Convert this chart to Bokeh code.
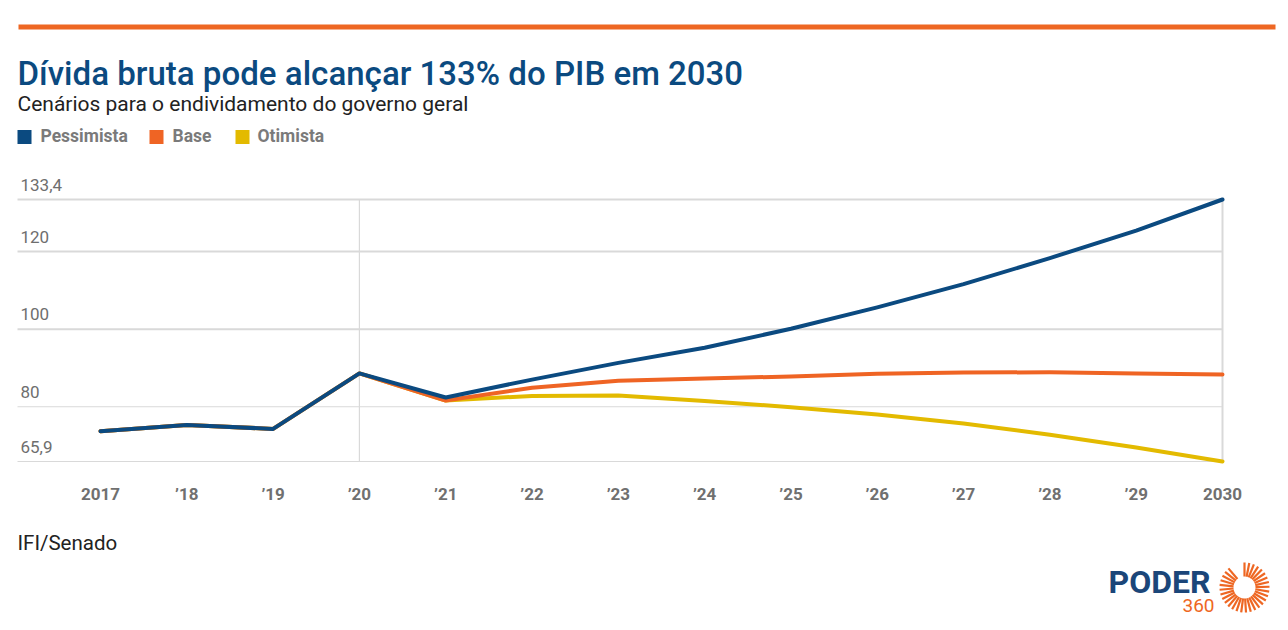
import math
from bokeh.plotting import figure
from bokeh.models import Label
from bokeh.core.properties import value
from bokeh.embed import file_html
from bokeh.resources import INLINE

# ---------------- data ----------------
years = [2017, 2018, 2019, 2020, 2021, 2022, 2023, 2024, 2025, 2026, 2027, 2028, 2029, 2030]
tick_labels = ["2017", "’18", "’19", "’20", "’21", "’22", "’23", "’24", "’25", "’26", "’27", "’28", "’29", "2030"]
pessimista = [73.7, 75.3, 74.3, 88.6, 82.4, 87.0, 91.3, 95.2, 100.1, 105.6, 111.6, 118.3, 125.4, 133.4]
base = [73.7, 75.3, 74.3, 88.6, 81.6, 84.9, 86.7, 87.3, 87.8, 88.5, 88.8, 88.9, 88.6, 88.3]
otimista = [73.7, 75.3, 74.3, 88.6, 81.6, 82.8, 82.9, 81.5, 79.9, 78.0, 75.7, 72.8, 69.5, 65.9]
series_names = ["Pessimista", "Base", "Otimista"]
series_colors = ["#0b4a80", "#ef6424", "#e3ba00"]
y_ticks = [65.9, 80, 100, 120, 133.4]
y_tick_labels = ["65,9", "80", "100", "120", "133,4"]
highlight_years = [2020, 2030]
title = "Dívida bruta pode alcançar 133% do PIB em 2030"
subtitle = "Cenários para o endividamento do governo geral"
source = "IFI/Senado"

# ---------------- layout ----------------
W, H = 1288, 630
OX, OY = 0, 0

X0_PX, X1_PX = 100, 1222      # 2017 .. 2030
Y_TOP_PX, Y_BOT_PX = 199, 461  # 133.4 .. 65.9
px_per_year = (X1_PX - X0_PX) / (years[-1] - years[0])
px_per_unit = (Y_BOT_PX - Y_TOP_PX) / (y_ticks[-1] - y_ticks[0])

x_start = years[0] - (X0_PX - OX) / px_per_year
x_end = years[-1] + (OX + W - X1_PX) / px_per_year
y_end = y_ticks[-1] + (Y_TOP_PX - OY) / px_per_unit
y_start = y_ticks[0] - (OY + H - Y_BOT_PX) / px_per_unit


def px2x(px):
    return x_start + (px - OX) / px_per_year


def py2y(py):
    return y_end - (py - OY) / px_per_unit


def sy(py):
    return H - (py - OY)


def sx(px):
    return px - OX


p = figure(width=W, height=H, x_range=(x_start, x_end), y_range=(y_start, y_end),
           output_backend="svg", toolbar_location=None,
           x_axis_location=None, y_axis_location=None,
           min_border=0, min_border_left=0, min_border_right=0,
           min_border_top=0, min_border_bottom=0)
p.outline_line_color = None
p.xgrid.visible = False
p.ygrid.visible = False
p.background_fill_color = "white"
p.border_fill_color = "white"

FONT = value("Roboto")

# top orange bar
p.rect(x=[(px2x(18) + px2x(1275)) / 2], y=[py2y(26.5)],
       width=[px2x(1275) - px2x(18)], height=[5 / px_per_unit],
       fill_color="#ee6723", line_color=None)

# grid lines
gx0, gx1 = px2x(17), years[-1]
widths = [1.2 if v < 90 else 2 for v in y_ticks]
p.segment(x0=[gx0] * len(y_ticks), y0=y_ticks, x1=[gx1] * len(y_ticks), y1=y_ticks,
          line_color="#d9d9d9", line_width=widths)
p.segment(x0=highlight_years, y0=[y_ticks[0]] * 2, x1=highlight_years, y1=[y_ticks[-1]] * 2,
          line_color="#d9d9d9", line_width=[1.2, 2])

# y tick labels (above grid lines)
p.text(x=[px2x(20)] * len(y_ticks), y=[v + 15 / px_per_unit for v in y_ticks], text=y_tick_labels,
       text_font=FONT, text_font_size="17px", text_color="#6e6e6e",
       text_baseline="alphabetic", text_align="left")

# x tick labels
p.text(x=years, y=[y_ticks[0] - 32 / px_per_unit] * len(years), text=tick_labels,
       text_font=FONT, text_font_size="17px", text_font_style="bold", text_color="#707070",
       text_baseline="middle", text_align="center")

# lines
for name, vals, col in reversed(list(zip(series_names, [pessimista, base, otimista], series_colors))):
    p.line(years, vals, line_color=col, line_width=4, line_join="round", line_cap="round")

# title and subtitle
p.add_layout(Label(x=sx(17), y=sy(73), x_units="screen", y_units="screen", text=title,
                   text_font="Roboto Medium, Roboto", text_font_size="33px", text_color="#0b4a80",
                   text_baseline="alphabetic"))
p.add_layout(Label(x=sx(17), y=sy(103), x_units="screen", y_units="screen", text=subtitle,
                   text_font="Roboto", text_font_size="21px", text_color="#222222",
                   text_baseline="alphabetic"))

# legend
leg_sq_x = [17, 149, 235]
leg_tx_x = [40, 172, 257]
for i, (name, col) in enumerate(zip(series_names, series_colors)):
    p.rect(x=[px2x(leg_sq_x[i] + 7)], y=[py2y(136.5)],
           width=[14 / px_per_year], height=[14 / px_per_unit],
           fill_color=col, line_color=None)
    p.add_layout(Label(x=sx(leg_tx_x[i]), y=sy(135.5), x_units="screen", y_units="screen", text=name,
                       text_font="Roboto", text_font_size="17.5px", text_font_style="bold",
                       text_color="#7a7a7a", text_baseline="alphabetic"))

# source
p.add_layout(Label(x=sx(17), y=sy(542), x_units="screen", y_units="screen", text=source,
                   text_font="Roboto", text_font_size="20.5px", text_color="#222222",
                   text_baseline="alphabetic"))

# logo
p.add_layout(Label(x=sx(1108), y=sy(581.5), x_units="screen", y_units="screen", text="PODER",
                   text_font="Roboto", text_font_size="32px",
                   text_font_style="bold", text_color="#1b4679", text_baseline="alphabetic"))
p.add_layout(Label(x=sx(1182), y=sy(605), x_units="screen", y_units="screen", text="360",
                   text_font="Roboto", text_font_size="19px", text_color="#ee6723",
                   text_baseline="alphabetic"))
cx, cy = 1244, 587
r0, r1 = 11, 25
xs0, ys0, xs1, ys1 = [], [], [], []
for k in range(30):
    a = math.radians(90 - k * (320 / 29))
    xs0.append(px2x(cx + r0 * math.cos(a)))
    xs1.append(px2x(cx + r1 * math.cos(a)))
    ys0.append(py2y(cy - r0 * math.sin(a)))
    ys1.append(py2y(cy - r1 * math.sin(a)))
p.segment(x0=xs0, y0=ys0, x1=xs1, y1=ys1, line_color="#ee6723", line_width=2.2)

open("out.html", "w").write(file_html(p, INLINE))
